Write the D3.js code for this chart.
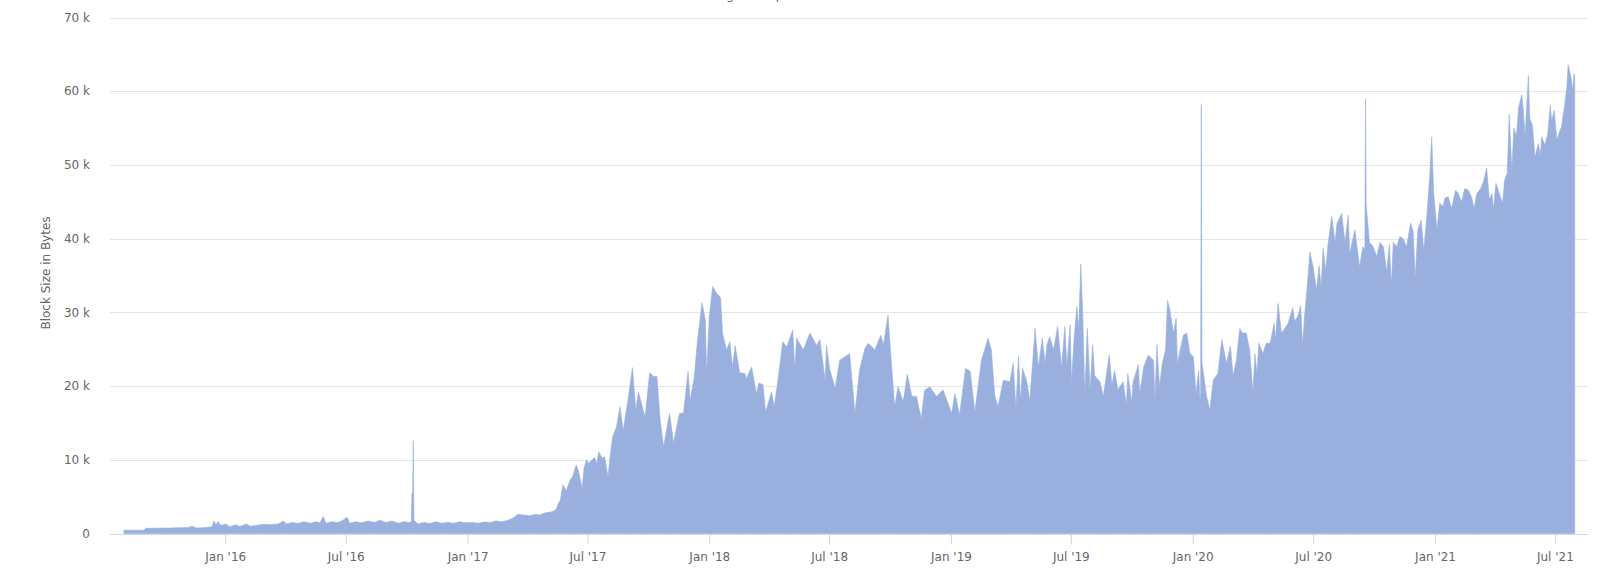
<!DOCTYPE html>
<html><head><meta charset="utf-8">
<script src="https://cdn.jsdelivr.net/npm/d3@7"></script>
<style>html,body{margin:0;padding:0;background:#fff;}svg{display:block;}</style>
</head><body>
<svg id="chart" width="1600" height="573"></svg>
<script>
const subtitleText = "Click and drag in the plot area to zoom in";
const yAxisTitle = "Block Size in Bytes";
const yTickValues = [0, 10000, 20000, 30000, 40000, 50000, 60000, 70000];
const xDomain = ["2015-07-11", "2021-08-20"];

const dates = [
"2015-08-01","2015-08-31","2015-09-03","2015-10-10","2015-11-06","2015-11-12","2015-11-18","2015-12-02","2015-12-12","2015-12-15",
"2015-12-18","2015-12-21","2015-12-26","2016-01-02","2016-01-08","2016-01-17","2016-01-23","2016-02-02","2016-02-08","2016-02-17",
"2016-02-26","2016-03-09","2016-03-21","2016-03-29","2016-04-02","2016-04-11","2016-04-20","2016-04-29","2016-05-08","2016-05-17",
"2016-05-23","2016-05-28","2016-06-01","2016-06-10","2016-06-19","2016-06-25","2016-07-03","2016-07-07","2016-07-16","2016-07-25",
"2016-08-04","2016-08-13","2016-08-22","2016-08-31","2016-09-09","2016-09-18","2016-09-27","2016-10-05","2016-10-08","2016-10-09",
"2016-10-10","2016-10-11","2016-10-12","2016-10-18","2016-10-27","2016-11-05","2016-11-14","2016-11-23","2016-12-02","2016-12-11",
"2016-12-20","2016-12-29","2017-01-07","2017-01-17","2017-01-26","2017-02-04","2017-02-13","2017-02-22","2017-03-03","2017-03-11",
"2017-03-18","2017-03-27","2017-04-05","2017-04-14","2017-04-20","2017-04-28","2017-05-06","2017-05-10","2017-05-15","2017-05-18",
"2017-05-21","2017-05-25","2017-05-30","2017-06-05","2017-06-09","2017-06-14","2017-06-18","2017-06-23","2017-06-26","2017-06-30",
"2017-07-03","2017-07-08","2017-07-12","2017-07-15","2017-07-18","2017-07-23","2017-07-27","2017-08-01","2017-08-05","2017-08-08",
"2017-08-14","2017-08-19","2017-08-24","2017-09-01","2017-09-07","2017-09-12","2017-09-16","2017-09-26","2017-10-03","2017-10-09",
"2017-10-14","2017-10-19","2017-10-24","2017-11-02","2017-11-08","2017-11-17","2017-11-23","2017-11-30","2017-12-03","2017-12-09",
"2017-12-14","2017-12-21","2017-12-26","2017-12-28","2018-01-01","2018-01-06","2018-01-12","2018-01-18","2018-01-21","2018-01-27",
"2018-02-01","2018-02-05","2018-02-09","2018-02-16","2018-02-24","2018-02-26","2018-03-06","2018-03-13","2018-03-17","2018-03-23",
"2018-03-27","2018-04-05","2018-04-09","2018-04-15","2018-04-22","2018-04-28","2018-05-07","2018-05-10","2018-05-13","2018-05-23",
"2018-06-02","2018-06-12","2018-06-17","2018-06-25","2018-06-27","2018-07-02","2018-07-10","2018-07-17","2018-07-25","2018-08-01",
"2018-08-09","2018-08-16","2018-08-24","2018-08-29","2018-09-08","2018-09-17","2018-09-21","2018-09-28","2018-10-02","2018-10-08",
"2018-10-13","2018-10-21","2018-10-27","2018-11-03","2018-11-10","2018-11-17","2018-11-22","2018-11-30","2018-12-10","2018-12-20",
"2019-01-02","2019-01-07","2019-01-14","2019-01-23","2019-01-30","2019-02-06","2019-02-16","2019-02-26","2019-03-03","2019-03-08",
"2019-03-13","2019-03-21","2019-03-31","2019-04-05","2019-04-09","2019-04-13","2019-04-16","2019-04-19","2019-04-25","2019-04-30",
"2019-05-05","2019-05-08","2019-05-13","2019-05-19","2019-05-23","2019-05-26","2019-05-30","2019-06-05","2019-06-11","2019-06-17",
"2019-06-22","2019-06-25","2019-06-30","2019-07-02","2019-07-06","2019-07-10","2019-07-13","2019-07-16","2019-07-19","2019-07-22",
"2019-07-26","2019-07-30","2019-08-03","2019-08-06","2019-08-14","2019-08-19","2019-08-28","2019-09-01","2019-09-05","2019-09-10",
"2019-09-18","2019-09-23","2019-09-25","2019-10-01","2019-10-03","2019-10-11","2019-10-13","2019-10-19","2019-10-26","2019-11-03",
"2019-11-05","2019-11-08","2019-11-12","2019-11-16","2019-11-21","2019-11-24","2019-11-27","2019-12-03","2019-12-07","2019-12-09",
"2019-12-13","2019-12-18","2019-12-23","2019-12-28","2020-01-02","2020-01-06","2020-01-10","2020-01-12","2020-01-13","2020-01-14",
"2020-01-15","2020-01-16","2020-01-22","2020-01-27","2020-02-01","2020-02-08","2020-02-14","2020-02-21","2020-02-27","2020-03-02",
"2020-03-07","2020-03-12","2020-03-16","2020-03-22","2020-03-27","2020-04-01","2020-04-04","2020-04-07","2020-04-10","2020-04-16",
"2020-04-21","2020-04-27","2020-05-03","2020-05-05","2020-05-09","2020-05-14","2020-05-19","2020-05-24","2020-05-31","2020-06-03",
"2020-06-08","2020-06-12","2020-06-15","2020-06-18","2020-06-22","2020-06-26","2020-07-01","2020-07-06","2020-07-10","2020-07-13",
"2020-07-16","2020-07-20","2020-07-23","2020-07-29","2020-08-03","2020-08-06","2020-08-13","2020-08-18","2020-08-23","2020-08-25",
"2020-09-02","2020-09-09","2020-09-14","2020-09-17","2020-09-18","2020-09-19","2020-09-24","2020-09-29","2020-10-05","2020-10-10",
"2020-10-15","2020-10-20","2020-10-24","2020-10-27","2020-10-30","2020-11-04","2020-11-09","2020-11-14","2020-11-19","2020-11-25",
"2020-11-29","2020-12-02","2020-12-06","2020-12-11","2020-12-15","2020-12-20","2020-12-24","2020-12-27","2020-12-30","2021-01-04",
"2021-01-08","2021-01-13","2021-01-16","2021-01-21","2021-01-26","2021-02-01","2021-02-05","2021-02-10","2021-02-15","2021-02-20",
"2021-02-25","2021-03-01","2021-03-05","2021-03-11","2021-03-15","2021-03-20","2021-03-24","2021-03-28","2021-03-30","2021-04-03",
"2021-04-07","2021-04-13","2021-04-16","2021-04-20","2021-04-23","2021-04-27","2021-04-30","2021-05-04","2021-05-07","2021-05-12",
"2021-05-14","2021-05-17","2021-05-22","2021-05-24","2021-05-28","2021-06-01","2021-06-06","2021-06-09","2021-06-11","2021-06-16",
"2021-06-20","2021-06-24","2021-06-26","2021-06-30","2021-07-04","2021-07-08","2021-07-11","2021-07-16","2021-07-19","2021-07-21",
"2021-07-25","2021-07-28","2021-07-30","2021-07-31"
];

const blockSize = [
450,450,700,750,800,1000,750,800,900,1700,
1200,1600,1100,1300,900,1200,950,1300,1000,1100,
1250,1200,1300,1700,1300,1500,1350,1600,1400,1600,
1450,2300,1400,1600,1500,1700,2200,1400,1600,1450,
1700,1500,1800,1500,1700,1400,1600,1500,1600,5500,
5000,12600,1800,1300,1500,1350,1600,1400,1500,1400,
1600,1450,1500,1400,1550,1500,1700,1600,1800,2100,
2600,2500,2400,2600,2500,2800,2900,3000,3300,4100,
4500,6600,5800,7300,7800,9300,8300,6100,9000,10000,
9500,10000,10300,9400,11100,10200,10400,7700,11000,13100,
14500,17200,14000,18600,22500,16800,19200,15800,21800,21300,
21300,15200,11800,16300,12300,16300,16300,22000,18100,21000,
26000,31300,29000,21700,29400,33500,32600,32000,27200,24900,
26000,22600,25500,21800,21700,21000,22600,19000,20400,20200,
16500,19200,17200,21000,26000,25300,27600,22400,26500,24900,
27200,25500,26300,20800,25500,22200,19700,23500,24000,24400,
16300,22200,25100,25800,24900,26900,25600,29600,24400,17200,
19900,17900,21600,18600,18600,15600,19400,19900,18600,19500,
16300,19000,16100,22400,22000,16500,23500,26500,24900,18800,
17200,20800,20600,23100,17000,24000,18000,22400,20800,18100,
24000,27800,22600,26500,23100,25600,26700,24900,28100,22600,
28100,22800,28300,20600,26500,30800,27800,36600,29700,19000,
27800,19500,25600,21400,20600,18600,24200,20100,22100,19500,
20600,17400,21700,17800,20600,22900,19000,22600,24200,23500,
18100,25600,19900,23000,24900,31600,30600,27200,29200,23000,
24900,26900,27200,24400,24000,19000,22100,18100,19000,58200,
23000,22600,18600,16800,20800,21700,26300,23100,25400,21400,
23500,27800,27200,27200,24900,19200,24400,21700,25800,24400,
25800,25800,28500,26300,31200,27200,27800,28500,30600,28800,
29500,30900,25600,29500,33500,38200,36100,33000,36300,33400,
38700,35600,38900,43000,39500,42100,43400,39500,43200,38000,
41200,36200,38900,38500,58900,44600,39500,39000,37600,39500,
38900,35500,39200,33700,39500,38900,40300,40000,38900,42100,
41000,34600,41200,42500,38400,43400,48600,53800,46100,41200,
44800,44400,45500,45700,44100,46600,46100,45000,46800,46600,
45700,44100,46100,46800,47700,49600,45300,46100,43900,47500,
46400,44800,47900,48900,56800,49300,55000,53900,57700,59500,
57700,53900,62100,56300,55400,51100,52900,51300,53800,52700,
54100,58100,56000,57400,53400,54500,55200,58300,60600,63600,
62000,60200,62400,62000
];

const W = 1600, H = 573;
const plot = {left: 110, right: 1588, top: 17.5, bottom: 533.5};
const font = "'DejaVu Sans', 'Lucida Grande', Arial, sans-serif";
const parse = d3.utcParse("%Y-%m-%d");
const data = dates.map((d, i) => ({date: parse(d), value: blockSize[i]}));

const svg = d3.select("#chart");

const x = d3.scaleUtc().domain(xDomain.map(parse)).range([plot.left, plot.right]);
const y = d3.scaleLinear().domain([0, 70000]).range([plot.bottom, plot.top]);

// subtitle (mostly above the top edge, as in the reference)
svg.append("text").attr("x", 772).attr("y", -1)
  .attr("text-anchor", "middle").attr("font-family", font).attr("font-size", 12)
  .attr("fill", "#666").text(subtitleText);

// gridlines
svg.append("g").selectAll("line").data(yTickValues).join("line")
  .attr("x1", plot.left).attr("x2", plot.right)
  .attr("y1", d => Math.round(y(d)) + 0.5).attr("y2", d => Math.round(y(d)) + 0.5)
  .attr("stroke", "#e6e6e6").attr("stroke-width", 1);

// y labels
svg.append("g").selectAll("text").data(yTickValues).join("text")
  .attr("x", 90).attr("y", d => y(d)).attr("dy", "0.35em")
  .attr("text-anchor", "end").attr("font-family", font).attr("font-size", 12)
  .attr("fill", "#666").text(d => d === 0 ? "0" : (d / 1000) + " k");

// y title
svg.append("text").attr("transform", "translate(50,273) rotate(-90)")
  .attr("text-anchor", "middle").attr("font-family", font).attr("font-size", 12)
  .attr("fill", "#666").text(yAxisTitle);

// area
const area = d3.area().x(d => x(d.date)).y0(y(0)).y1(d => y(d.value)).curve(d3.curveLinear);
svg.append("path").datum(data).attr("d", area).attr("fill", "#99b0de").attr("stroke", "#99b0de").attr("stroke-width", 0.6);

// x axis
const xAxis = d3.axisBottom(x).ticks(d3.utcMonth.every(6)).tickFormat(d3.utcFormat("%b '%y")).tickSize(10).tickPadding(8);
const gx = svg.append("g").attr("transform", `translate(0,${Math.round(plot.bottom) + 0.5})`).call(xAxis);
gx.select(".domain").attr("stroke", "#ccd6eb").attr("d", `M${plot.left},0H${plot.right}`);
gx.selectAll(".tick line").attr("stroke", "#ccd6eb");
gx.selectAll(".tick text").attr("font-family", font).attr("font-size", 12).attr("fill", "#666");
</script>
</body></html>
